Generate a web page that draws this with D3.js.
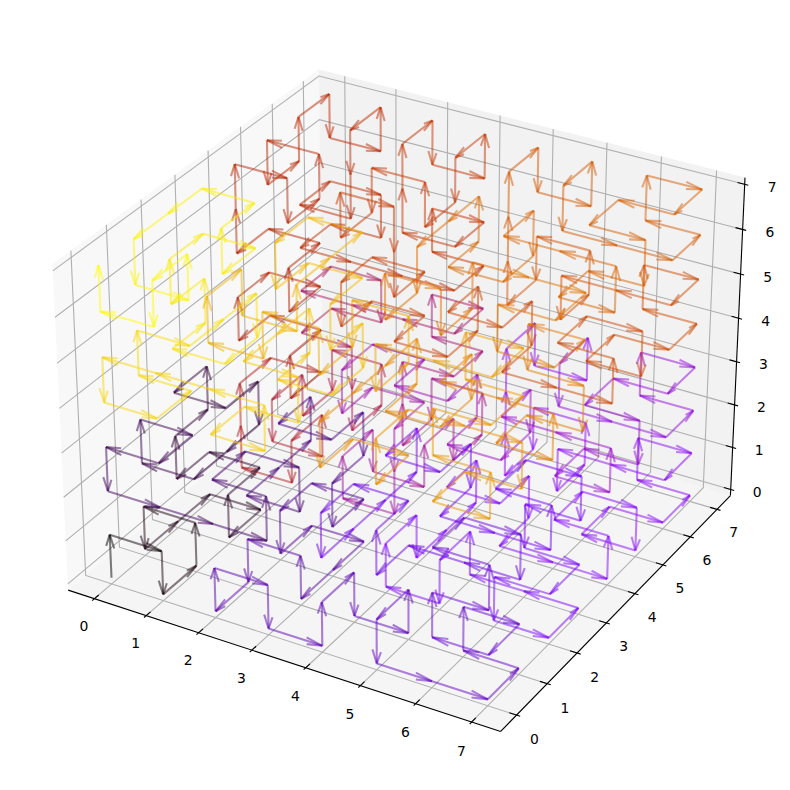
<!DOCTYPE html>
<html><head><meta charset="utf-8"><style>html,body{margin:0;background:#fff}svg{display:block}text{font-family:"DejaVu Sans"}</style>
<script src="https://cdn.jsdelivr.net/npm/d3@7"></script></head><body><div id="c"></div><script>
const xs=[
0,0,1,1,1,1,0,0, 0,0,1,1,1,1,0,0, 0,0,0,0,1,1,1,1, 1,0,0,1,1,0,0,1, 2,3,3,2,2,3,3,2, 2,2,2,2,3,3,3,3, 3,3,2,2,2,2,3,3, 3,3,2,2,2,2,3,3,
4,4,4,4,5,5,5,5, 6,7,7,6,6,7,7,6, 6,7,7,6,6,7,7,6, 5,5,5,5,4,4,4,4, 4,4,4,4,5,5,5,5, 6,7,7,6,6,7,7,6, 6,7,7,6,6,7,7,6, 5,5,5,5,4,4,4,4,
4,4,4,4,5,5,5,5, 6,7,7,6,6,7,7,6, 6,7,7,6,6,7,7,6, 5,5,5,5,4,4,4,4, 4,4,4,4,5,5,5,5, 6,7,7,6,6,7,7,6, 6,7,7,6,6,7,7,6, 5,5,5,5,4,4,4,4,
3,3,2,2,2,2,3,3, 3,3,2,2,2,2,3,3, 3,3,3,3,2,2,2,2, 2,3,3,2,2,3,3,2, 1,0,0,1,1,0,0,1, 1,1,1,1,0,0,0,0, 0,0,1,1,1,1,0,0, 0,0,1,1,1,1,0,0,
0,0,1,1,1,1,0,0, 0,0,1,1,1,1,0,0, 0,0,0,0,1,1,1,1, 1,0,0,1,1,0,0,1, 2,3,3,2,2,3,3,2, 2,2,2,2,3,3,3,3, 3,3,2,2,2,2,3,3, 3,3,2,2,2,2,3,3,
4,4,4,4,5,5,5,5, 6,7,7,6,6,7,7,6, 6,7,7,6,6,7,7,6, 5,5,5,5,4,4,4,4, 4,4,4,4,5,5,5,5, 6,7,7,6,6,7,7,6, 6,7,7,6,6,7,7,6, 5,5,5,5,4,4,4,4,
4,4,4,4,5,5,5,5, 6,7,7,6,6,7,7,6, 6,7,7,6,6,7,7,6, 5,5,5,5,4,4,4,4, 4,4,4,4,5,5,5,5, 6,7,7,6,6,7,7,6, 6,7,7,6,6,7,7,6, 5,5,5,5,4,4,4,4,
3,3,2,2,2,2,3,3, 3,3,2,2,2,2,3,3, 3,3,3,3,2,2,2,2, 2,3,3,2,2,3,3,2, 1,0,0,1,1,0,0,1, 1,1,1,1,0,0,0,0, 0,0,1,1,1,1,0,0, 0,0,1,1,1,1,0,0];
const ys=[
0,0,0,0,1,1,1,1, 2,3,3,2,2,3,3,2, 2,3,3,2,2,3,3,2, 1,1,1,1,0,0,0,0, 0,0,0,0,1,1,1,1, 2,3,3,2,2,3,3,2, 2,3,3,2,2,3,3,2, 1,1,1,1,0,0,0,0,
0,0,1,1,1,1,0,0, 0,0,1,1,1,1,0,0, 0,0,0,0,1,1,1,1, 1,0,0,1,1,0,0,1, 2,3,3,2,2,3,3,2, 2,2,2,2,3,3,3,3, 3,3,2,2,2,2,3,3, 3,3,2,2,2,2,3,3,
4,5,5,4,4,5,5,4, 4,4,4,4,5,5,5,5, 6,6,7,7,7,7,6,6, 6,6,7,7,7,7,6,6, 6,6,7,7,7,7,6,6, 6,6,7,7,7,7,6,6, 5,5,5,5,4,4,4,4, 4,5,5,4,4,5,5,4,
4,5,5,4,4,5,5,4, 4,4,4,4,5,5,5,5, 6,6,7,7,7,7,6,6, 6,6,7,7,7,7,6,6, 6,6,7,7,7,7,6,6, 6,6,7,7,7,7,6,6, 5,5,5,5,4,4,4,4, 4,5,5,4,4,5,5,4,
4,5,5,4,4,5,5,4, 4,4,4,4,5,5,5,5, 6,6,7,7,7,7,6,6, 6,6,7,7,7,7,6,6, 6,6,7,7,7,7,6,6, 6,6,7,7,7,7,6,6, 5,5,5,5,4,4,4,4, 4,5,5,4,4,5,5,4,
4,5,5,4,4,5,5,4, 4,4,4,4,5,5,5,5, 6,6,7,7,7,7,6,6, 6,6,7,7,7,7,6,6, 6,6,7,7,7,7,6,6, 6,6,7,7,7,7,6,6, 5,5,5,5,4,4,4,4, 4,5,5,4,4,5,5,4,
3,3,2,2,2,2,3,3, 3,3,2,2,2,2,3,3, 3,3,3,3,2,2,2,2, 2,3,3,2,2,3,3,2, 1,0,0,1,1,0,0,1, 1,1,1,1,0,0,0,0, 0,0,1,1,1,1,0,0, 0,0,1,1,1,1,0,0,
0,0,0,0,1,1,1,1, 2,3,3,2,2,3,3,2, 2,3,3,2,2,3,3,2, 1,1,1,1,0,0,0,0, 0,0,0,0,1,1,1,1, 2,3,3,2,2,3,3,2, 2,3,3,2,2,3,3,2, 1,1,1,1,0,0,0,0];
const zs=[
0,1,1,0,0,1,1,0, 0,0,0,0,1,1,1,1, 2,2,3,3,3,3,2,2, 2,2,3,3,3,3,2,2, 2,2,3,3,3,3,2,2, 2,2,3,3,3,3,2,2, 1,1,1,1,0,0,0,0, 0,1,1,0,0,1,1,0,
0,1,1,0,0,1,1,0, 0,0,0,0,1,1,1,1, 2,2,3,3,3,3,2,2, 2,2,3,3,3,3,2,2, 2,2,3,3,3,3,2,2, 2,2,3,3,3,3,2,2, 1,1,1,1,0,0,0,0, 0,1,1,0,0,1,1,0,
0,0,1,1,1,1,0,0, 0,0,1,1,1,1,0,0, 0,0,0,0,1,1,1,1, 1,0,0,1,1,0,0,1, 2,3,3,2,2,3,3,2, 2,2,2,2,3,3,3,3, 3,3,2,2,2,2,3,3, 3,3,2,2,2,2,3,3,
3,3,3,3,2,2,2,2, 1,0,0,1,1,0,0,1, 1,0,0,1,1,0,0,1, 2,2,2,2,3,3,3,3, 3,3,3,3,2,2,2,2, 1,0,0,1,1,0,0,1, 1,0,0,1,1,0,0,1, 2,2,2,2,3,3,3,3,
4,4,4,4,5,5,5,5, 6,7,7,6,6,7,7,6, 6,7,7,6,6,7,7,6, 5,5,5,5,4,4,4,4, 4,4,4,4,5,5,5,5, 6,7,7,6,6,7,7,6, 6,7,7,6,6,7,7,6, 5,5,5,5,4,4,4,4,
4,4,5,5,5,5,4,4, 4,4,5,5,5,5,4,4, 4,4,4,4,5,5,5,5, 5,4,4,5,5,4,4,5, 6,7,7,6,6,7,7,6, 6,6,6,6,7,7,7,7, 7,7,6,6,6,6,7,7, 7,7,6,6,6,6,7,7,
7,6,6,7,7,6,6,7, 7,7,7,7,6,6,6,6, 5,5,4,4,4,4,5,5, 5,5,4,4,4,4,5,5, 5,5,4,4,4,4,5,5, 5,5,4,4,4,4,5,5, 6,6,6,6,7,7,7,7, 7,6,6,7,7,6,6,7,
7,6,6,7,7,6,6,7, 7,7,7,7,6,6,6,6, 5,5,4,4,4,4,5,5, 5,5,4,4,4,4,5,5, 5,5,4,4,4,4,5,5, 5,5,4,4,4,4,5,5, 6,6,6,6,7,7,7,7, 7,6,6,7,7,6,6,7];
const tickVals=[0,1,2,3,4,5,6,7];
const pts=xs.map((x,i)=>[x,ys[i],zs[i]]);
const L=10,T=10,W=770,alpha=0.5;
const lim=[-.35,7.35],zlim=[0,7];
const dx=(lim[1]-lim[0])/48,dz=(zlim[1]-zlim[0])/48;
const a=[4,4,3].map(v=>v*1.8294640721620434/Math.hypot(4,4,3));
const sx=d3.scaleLinear().domain(lim).range([0,a[0]]),sy=d3.scaleLinear().domain(lim).range([0,a[1]]),sz=d3.scaleLinear().domain(zlim).range([0,a[2]]);
const el=30*Math.PI/180,az=-60*Math.PI/180,dist=10;
const p=[Math.cos(el)*Math.cos(az),Math.cos(el)*Math.sin(az),Math.sin(el)];
const R=a.map(v=>v/2),eye=R.map((r,i)=>r+dist*p[i]);
const cross=(a,b)=>[a[1]*b[2]-a[2]*b[1],a[2]*b[0]-a[0]*b[2],a[0]*b[1]-a[1]*b[0]];
const dot=(a,b)=>a[0]*b[0]+a[1]*b[1]+a[2]*b[2];
let u=cross([0,0,1],p);const un=Math.hypot(...u);u=u.map(v=>v/un);const v=cross(p,u);
const px=d3.scaleLinear().domain([-.095,.09]).range([L,L+W]),py=d3.scaleLinear().domain([-.095,.09]).range([T+W,T]);
function proj(q){const w=[sx(q[0])-eye[0],sy(q[1])-eye[1],sz(q[2])-eye[2]];const zv=dot(w,p);return [px(dot(w,u)/-zv),py(dot(w,v)/-zv),10/zv];}
const svg=d3.select('#c').append('svg').attr('width',790).attr('height',790);
const x0=lim[0]-dx,x1=lim[1]+dx,y0=x0,y1=x1,z0=zlim[0]-dz,z1=zlim[1]+dz;
const line=a=>'M'+a.map(q=>{const r=proj(q);return r[0]+','+r[1]}).join('L');
[[[[x0,y0,z0],[x0,y1,z0],[x0,y1,z1],[x0,y0,z1]],.95],[[[x0,y1,z0],[x1,y1,z0],[x1,y1,z1],[x0,y1,z1]],.9],[[[x0,y0,z0],[x1,y0,z0],[x1,y1,z0],[x0,y1,z0]],.925]].forEach(([q,c])=>{const g=Math.round(c*255);svg.append('path').attr('d',line(q)+'Z').attr('fill',`rgb(${g},${g},${g})`).attr('fill-opacity',.5).attr('stroke','none');});
const grid=[];tickVals.forEach(t=>{grid.push([[t,y0,z0],[t,y1,z0],[t,y1,z1]]);grid.push([[x1,t,z0],[x0,t,z0],[x0,t,z1]]);grid.push([[x0,y0,t],[x0,y1,t],[x1,y1,t]]);});
svg.selectAll('.g').data(grid).join('path').attr('d',line).attr('fill','none').attr('stroke','#b0b0b0').attr('stroke-width',1.11);
const axes=[[[x0,y0,z0],[x1,y0,z0]],[[x1,y0,z0],[x1,y1,z0]],[[x1,y1,z0],[x1,y1,z1]]];
svg.selectAll('.a').data(axes).join('path').attr('d',line).attr('stroke','#000').attr('stroke-width',1.11);
const tdx=(lim[1]-lim[0])/12,tdz=7/12;
const ticks=[],labels=[];const lfx=.498*tdx,lfz=.498*tdz;
tickVals.forEach(t=>{
 ticks.push([[t,y0+.2*tdx,z0],[t,y0-.1*tdx,z0]]);labels.push([[t,y0-lfx,z0-lfz],t,0,5.5]);
 ticks.push([[x1-.2*tdx,t,z0],[x1+.1*tdx,t,z0]]);labels.push([[x1+lfx,t,z0-lfz],t,0,5.5]);
 ticks.push([[x1-.2*tdx,y1,t],[x1+.1*tdx,y1,t]]);labels.push([[x1+lfx,y1+lfx,t],t,1,6]);
});
svg.selectAll('.t').data(ticks).join('path').attr('d',line).attr('stroke','#000').attr('stroke-width',1.11);
svg.selectAll('.l').data(labels).join('text').attr('x',d=>proj(d[0])[0]+d[2]).attr('y',d=>proj(d[0])[1]+d[3]).attr('text-anchor','middle').attr('dy','.36em').attr('font-size',13.9).text(d=>d[1]);
const gp=t=>`rgb(${255*Math.sqrt(t)},${255*t*t*t},${255*Math.max(0,Math.sin(2*Math.PI*t))})`;
const ang=15*Math.PI/180,c=Math.cos(ang),s=Math.sin(ang);
const arrows=[];
for(let i=0;i<pts.length-1;i++){const q=pts[i],e=pts[i+1],U=[e[0]-q[0],e[1]-q[1],e[2]-q[2]];
 const n=Math.hypot(U[0],U[1]);const xp=n?U[1]/n:0,yp=n?-U[0]/n:1;
 const r13=yp*s,r32=xp*s,r12=xp*yp*(1-c);
 const A=c+xp*xp*(1-c),B=c+yp*yp*(1-c);
 const Rp=[[A,r12,r13],[r12,B,-r32],[-r13,r32,c]];
 const Rn=[[A,-r12,-r13],[-r12,B,r32],[r13,-r32,c]];
 const h1=e.map((w,k)=>w-.3*dot(Rp[k],U)),h2=e.map((w,k)=>w-.3*dot(Rn[k],U));
 arrows.push({segs:[[q,e],[e,h1],[e,h2]],col:gp(i/(pts.length-1)),z:d3.min([q,e,h1,h2],w=>proj(w)[2])});
}
arrows.sort((a,b)=>b.z-a.z);
const g=svg.selectAll('.ar').data(arrows).join('g').attr('stroke',d=>d.col).attr('stroke-opacity',alpha).attr('fill','none').attr('stroke-width',2.08);
g.selectAll('path').data(d=>d.segs).join('path').attr('d',line);
</script></body></html>
